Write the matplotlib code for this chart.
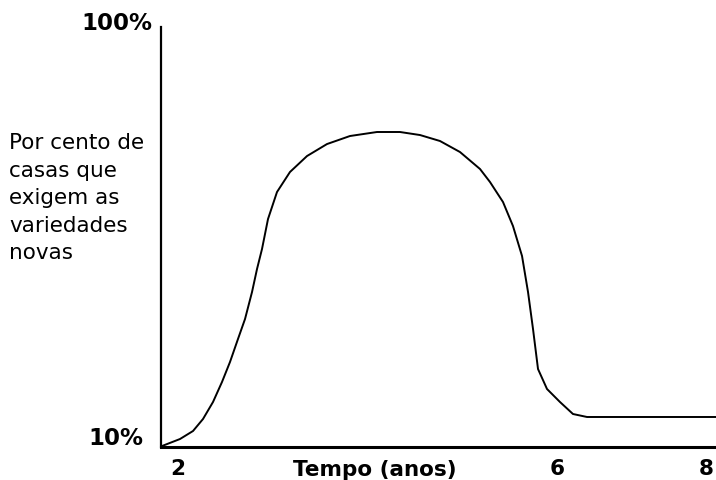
import matplotlib
matplotlib.use("Agg")
import matplotlib.pyplot as plt

# Schematic time position (0 = y-axis, 100 = right end) and percentage
time_pos = [0.18, 3.42, 5.77, 7.57, 9.37, 10.99, 12.43, 13.87, 15.14, 16.40,
            17.30, 18.20, 19.28, 20.90, 23.24, 26.31, 29.91, 34.05, 38.92, 43.06,
            46.67, 50.27, 53.87, 57.48, 59.28, 61.62, 63.42, 65.05, 66.13, 67.03,
            67.93, 69.55, 71.89, 74.23, 76.76, 100.0]
percent = [10.21, 11.71, 13.43, 16.0, 19.64, 23.93, 28.21, 33.14, 37.43, 43.21,
           48.14, 52.43, 58.85, 64.64, 68.93, 72.35, 74.92, 76.64, 77.50, 77.50,
           76.85, 75.57, 73.21, 69.57, 66.78, 62.50, 57.35, 50.93, 43.21, 35.28,
           26.71, 22.43, 19.64, 17.07, 16.43, 16.43]

x_tick_pos = [3.06, 71.35, 98.2]
x_tick_labels = ["2", "6", "8"]
y_top_label = "100%"
y_bottom_label = "10%"
x_title = "Tempo (anos)"
y_title = "Por cento de\ncasas que\nexigem as\nvariedades\nnovas"

W, H = 716, 481
fig = plt.figure(figsize=(W / 100, H / 100), dpi=100)
ax = fig.add_axes([161 / W, (H - 448) / H, (716 - 161) / W, (448 - 28) / H])

ax.plot(time_pos, percent, color="black", lw=1.4,
        solid_capstyle="round", solid_joinstyle="round")
ax.set_xlim(0, 100)
ax.set_ylim(10, 100)

for s in ["top", "right"]:
    ax.spines[s].set_visible(False)
ax.spines["left"].set_linewidth(1.6)
ax.spines["bottom"].set_linewidth(2.2)

ax.set_yticks([])
ax.set_xticks(x_tick_pos)
ax.set_xticklabels(x_tick_labels, fontsize=15.5, fontweight="bold")
ax.tick_params(axis="x", length=0, pad=8)

fig.text(375 / W, 1 - 470 / H, x_title, ha="center", va="center",
         fontsize=15.5, fontweight="bold")
fig.text(152 / W, 1 - 24 / H, y_top_label, ha="right", va="center",
         fontsize=16.5, fontweight="bold")
fig.text(143 / W, 1 - 439 / H, y_bottom_label, ha="right", va="center",
         fontsize=16.5, fontweight="bold")
fig.text(9 / W, 1 - 133 / H, y_title, ha="left", va="top",
         fontsize=15.5, linespacing=1.47)

fig.savefig("out.png", dpi=100)
